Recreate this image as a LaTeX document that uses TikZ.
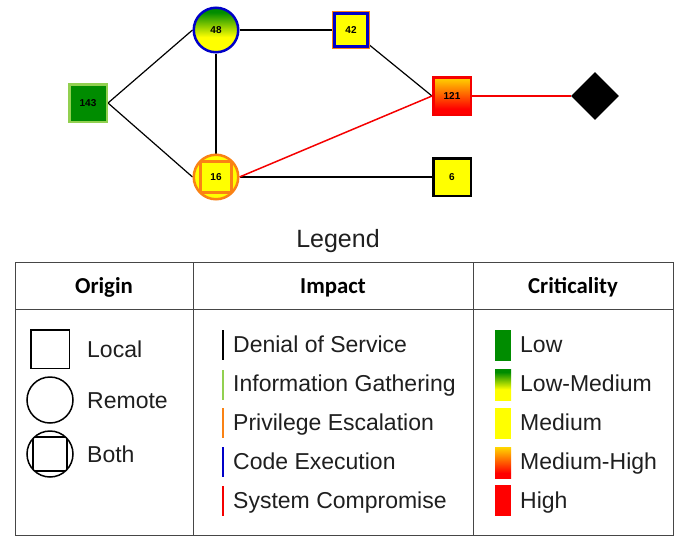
\documentclass[tikz,border=0pt]{standalone}
\usepackage{fontspec}
\setmainfont{Liberation Sans}
\newfontfamily\headfont{Carlito}
\usetikzlibrary{shapes.geometric,backgrounds}

% palette: criticality fills and impact strokes
\definecolor{dkgreen}{RGB}{0,140,0}
\definecolor{ltgreen}{RGB}{146,208,80}
\definecolor{impOrange}{RGB}{250,130,20}
\definecolor{impBlue}{RGB}{0,0,200}
\definecolor{impRed}{RGB}{245,0,0}
\definecolor{critYellow}{RGB}{255,255,0}
\definecolor{critRed}{RGB}{255,0,0}
\definecolor{critAmber}{RGB}{255,215,0}
\definecolor{ruleGray}{RGB}{70,70,70}

% gradients (path box maps onto 25bp..75bp)
\pgfdeclareverticalshading{lowmed}{100bp}{color(0bp)=(critYellow); color(42bp)=(critYellow); color(70bp)=(dkgreen); color(100bp)=(dkgreen)}
\pgfdeclareverticalshading{medhigh}{100bp}{color(0bp)=(critRed); color(33bp)=(critRed); color(75bp)=(critAmber); color(100bp)=(critAmber)}

\tikzset{
  vnode/.style={inner sep=0pt, font=\fontsize{10}{11}\selectfont\bfseries, line width=2.5pt},
  sqnode/.style={vnode, rectangle, minimum size=37.5pt},
  cirnode/.style={vnode, circle, minimum size=44.5pt},
  % square inscribed in a circle: half side, then stroke options
  bothmark/.style 2 args={path picture={\draw[#2]
      ([shift={(-#1,-#1)}]path picture bounding box.center) rectangle
      ([shift={(#1,#1)}]path picture bounding box.center);}},
  link/.style={line width=1.2pt, black},
  hotlink/.style={line width=1.5pt, impRed},
  tablerule/.style={line width=1pt, ruleGray},
  headtxt/.style={inner sep=0pt, font=\headfont\fontsize{22.8}{25}\selectfont\bfseries},
  itemtxt/.style={inner sep=0pt, anchor=base west, text=black!88, font=\fontsize{23}{26}\selectfont},
  oshape/.style={draw=black, line width=1.5pt, inner sep=0pt},
  impbar/.style={line width=2pt},
}

\begin{document}
\begin{tikzpicture}[x=1pt, y=-1pt]
  \useasboundingbox (0,0) rectangle (682,536);

  % ---- vulnerability graph ----
  \node[sqnode, fill=dkgreen, draw=ltgreen] (n143) at (88,103) {143};
  \node[cirnode, draw=impBlue, shading=lowmed] (n48) at (216,30) {48};
  \node[vnode, rectangle, minimum size=33pt, fill=critYellow, draw=impBlue,
        preaction={draw=impOrange, line width=5.5pt}] (n42) at (351,30) {42};
  \node[cirnode, draw=impOrange, fill=critYellow,
        bothmark={15.5pt}{impOrange, line width=2.5pt}] (n16) at (216,177) {16};
  \node[sqnode, draw=impRed, shading=medhigh] (n121) at (452,96) {121};
  \node[sqnode, draw=black, fill=critYellow] (n6) at (452,177) {6};
  \node[diamond, fill=black, minimum width=48pt, minimum height=48pt, inner sep=0pt] (goal) at (595,96) {};

  \begin{scope}[on background layer]
    \fill[white] (0,0) rectangle (682,536);
    \draw[link] (n143.east) -- (n48.west);
    \draw[link] (n143.east) -- (n16.west);
    \draw[link] (n48.east) -- (n42.west);
    \draw[link] (n48.south) -- (n16.north);
    \draw[link] (n42) -- (n121.west);
    \draw[link] (n16.east) -- (n6.west);
    \draw[hotlink] (n16.east) -- (n121.west);
    \draw[hotlink] (n121.east) -- (goal.west);
  \end{scope}

  % ---- legend ----
  \node[inner sep=0pt, anchor=base, font=\fontsize{25}{28}\selectfont, text=black!88] (legendTitle) at (338,247) {Legend};

  \draw[tablerule] (15,262) rectangle (673,535);
  \draw[tablerule] (15,309) -- (673,309);
  \draw[tablerule] (193,262) -- (193,535);
  \draw[tablerule] (473,262) -- (473,535);

  \node[headtxt, anchor=base] (hOrigin) at (104,293) {Origin};
  \node[headtxt, anchor=base] (hImpact) at (333,293) {Impact};
  \node[headtxt, anchor=base] (hCrit) at (573,293) {Criticality};

  % origin column
  \node[oshape, rectangle, minimum size=38.5pt] (oLocal) at (50,349) {};
  \node[oshape, circle, minimum size=46pt] (oRemote) at (50,400) {};
  \node[oshape, circle, minimum size=46pt, bothmark={17pt}{black, line width=1.5pt}] (oBoth) at (50,454) {};
  \node[itemtxt] (tLocal) at (87,357) {Local};
  \node[itemtxt] (tRemote) at (87,408) {Remote};
  \node[itemtxt] (tBoth) at (87,462) {Both};

  % impact column
  \draw[impbar, black] (223,330) -- (223,360);
  \draw[impbar, ltgreen] (223,370) -- (223,400);
  \draw[impbar, impOrange] (223,408) -- (223,438);
  \draw[impbar, impBlue] (223,447) -- (223,477);
  \draw[impbar, impRed] (223,486) -- (223,516);
  \node[itemtxt] (iDos) at (233,352) {Denial of Service};
  \node[itemtxt] (iInfo) at (233,391) {Information Gathering};
  \node[itemtxt] (iPriv) at (233,430) {Privilege Escalation};
  \node[itemtxt] (iCode) at (233,469) {Code Execution};
  \node[itemtxt] (iSys) at (233,508) {System Compromise};

  % criticality column
  \fill[dkgreen] (495,330) rectangle (511,361);
  \shade[shading=lowmed] (495,369) rectangle (511,400);
  \fill[critYellow] (495,408) rectangle (511,439);
  \shade[shading=medhigh] (495,447) rectangle (511,478);
  \fill[critRed] (495,485) rectangle (511,516);
  \node[itemtxt] (cLow) at (520,352) {Low};
  \node[itemtxt] (cLowMed) at (520,391) {Low-Medium};
  \node[itemtxt] (cMed) at (520,430) {Medium};
  \node[itemtxt] (cMedHigh) at (520,469) {Medium-High};
  \node[itemtxt] (cHigh) at (520,508) {High};
\end{tikzpicture}
\end{document}
